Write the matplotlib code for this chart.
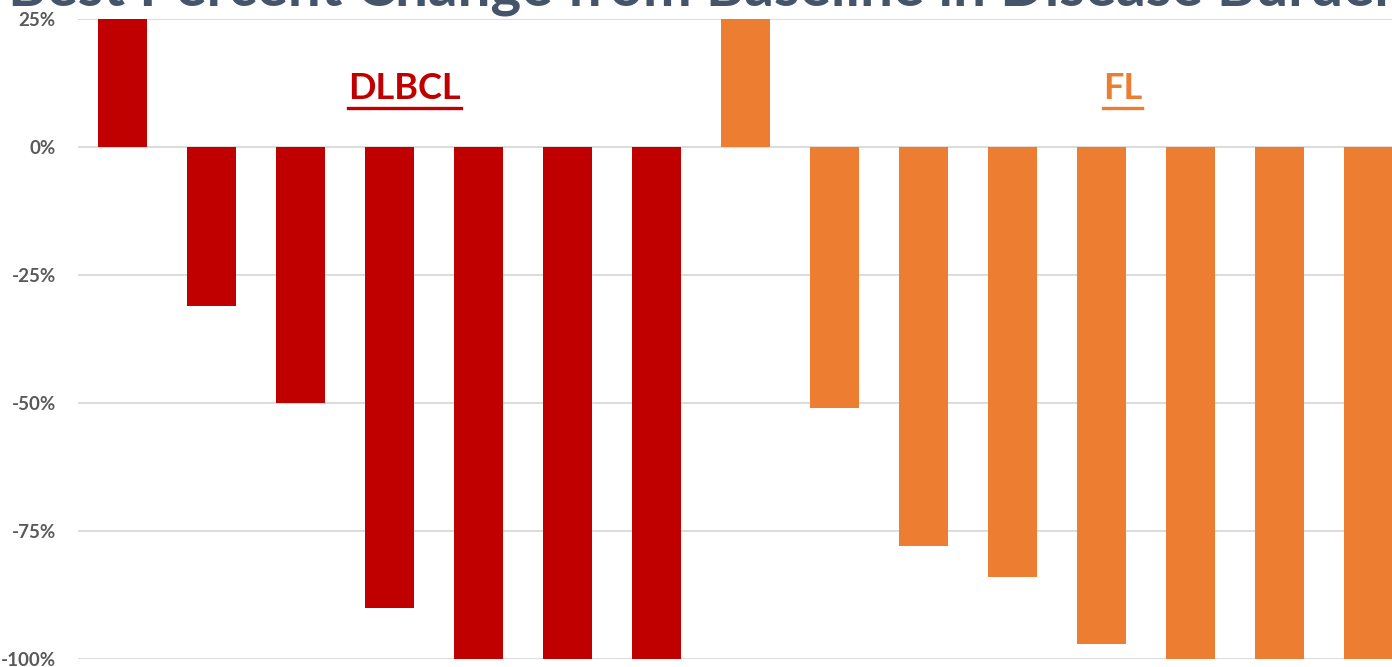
import numpy as np
import matplotlib.pyplot as plt
from matplotlib.ticker import FuncFormatter

plt.rcParams['font.family'] = ['Lato', 'DejaVu Sans']

# data (best % change from baseline, per patient)
dlbcl_change = [30, -31, -50, -90, -100, -100, -100]
fl_change = [30, -51, -78, -84, -97, -100, -100, -100]
dlbcl_color = '#C00000'
fl_color = '#ED7D31'

values = dlbcl_change + fl_change
colors = [dlbcl_color] * len(dlbcl_change) + [fl_color] * len(fl_change)
x = np.arange(len(values))

fig = plt.figure(figsize=(13.92, 6.67), dpi=100)
ax = fig.add_axes([78 / 1392, 8 / 667, 1 - 78 / 1392, 640 / 667])

ax.bar(x, values, width=0.55, color=colors, zorder=3)

ax.set_xlim(-0.5, -0.5 + 1314 / 89)
ax.set_ylim(-100, 25)
ax.set_yticks([25, 0, -25, -50, -75, -100])
ax.yaxis.set_major_formatter(FuncFormatter(lambda v, p: f'{v:.0f}%'))
ax.set_xticks([])
ax.grid(axis='y', color='#D9D9D9', linewidth=1.3, zorder=0)
for s in ax.spines.values():
    s.set_visible(False)
ax.tick_params(axis='y', length=0, pad=16, labelsize=13.5, labelcolor='#595959')
for lbl in ax.get_yticklabels():
    lbl.set_fontweight('bold')

# group labels, underlined
t1 = ax.text(3.17, 11.5, 'DLBCL', color=dlbcl_color, fontsize=26, fontweight='bold',
             ha='center', va='center')
t2 = ax.text(11.24, 11.5, 'FL', color=fl_color, fontsize=26, fontweight='bold',
             ha='center', va='center')

fig.text(8 / 1392, 1 - 5 / 667, 'Best Percent Change from Baseline in Disease Burden',
         color='#44546A', fontsize=42, fontweight='bold', ha='left', va='baseline')

fig.canvas.draw()
r = fig.canvas.get_renderer()
for t, c in [(t1, dlbcl_color), (t2, fl_color)]:
    bb = t.get_window_extent(r).transformed(fig.transFigure.inverted())
    yy = bb.y0 - 3 / 667
    fig.add_artist(plt.Line2D([bb.x0, bb.x1], [yy, yy], color=c, linewidth=2.4))

fig.savefig('out.png', dpi=100)
